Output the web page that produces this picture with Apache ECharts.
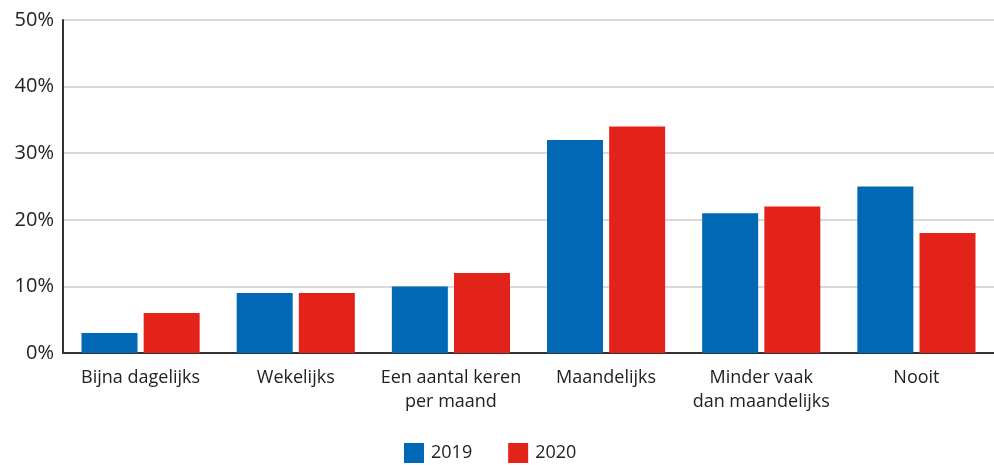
<!DOCTYPE html>
<html>
<head>
<meta charset="utf-8">
<script src="https://cdn.jsdelivr.net/npm/echarts@6/dist/echarts.min.js"></script>
<style>
  html, body { margin: 0; padding: 0; background: #fff; }
  #chart { width: 994px; height: 465px; }
</style>
</head>
<body>
<div id="chart"></div>
<script>
var categories = ['Bijna dagelijks', 'Wekelijks', 'Een aantal keren\nper maand', 'Maandelijks', 'Minder vaak\ndan maandelijks', 'Nooit']
var years = ['2019', '2020']
var values2019 = [3, 9, 10, 32, 21, 25]
var values2020 = [6, 9, 12, 34, 22, 18]
var yTicks = [0, 10, 20, 30, 40, 50]

var font = 'Open Sans'
var myChart = echarts.init(document.getElementById('chart'))
var option = {
    animation: false,
    textStyle: { fontFamily: font },
    grid: { left: 63, right: 0, top: 20, bottom: 112 },
    legend: {
        left: 399,
        top: 438,
        itemWidth: 20,
        itemHeight: 20,
        itemGap: 36,
        icon: 'rect',
        textStyle: { fontSize: 18, color: '#222', fontFamily: font, padding: [0, 0, 0, 2] },
        data: years
    },
    xAxis: {
        type: 'category',
        data: categories,
        axisLine: { lineStyle: { color: '#333', width: 2 } },
        axisTick: { inside: true, length: 6, lineStyle: { color: '#333', width: 1 } },
        axisLabel: { fontSize: 18, color: '#222', margin: 13, lineHeight: 24, fontFamily: font, interval: 0 }
    },
    yAxis: {
        type: 'value',
        min: yTicks[0],
        max: yTicks[yTicks.length - 1],
        interval: 10,
        axisLine: { show: true, lineStyle: { color: '#333', width: 2 } },
        axisTick: { show: false },
        splitLine: { lineStyle: { color: '#ccc', width: 1.5 } },
        axisLabel: { fontSize: 20, color: '#222', margin: 9, fontFamily: font, formatter: '{value}%' }
    },
    series: [
        { name: years[0], type: 'bar', data: values2019, barWidth: 56, barGap: '11%', itemStyle: { color: '#0068b4' } },
        { name: years[1], type: 'bar', data: values2020, barWidth: 56, itemStyle: { color: '#e32219' } }
    ]
}
myChart.setOption(option, true)
</script>
</body>
</html>
